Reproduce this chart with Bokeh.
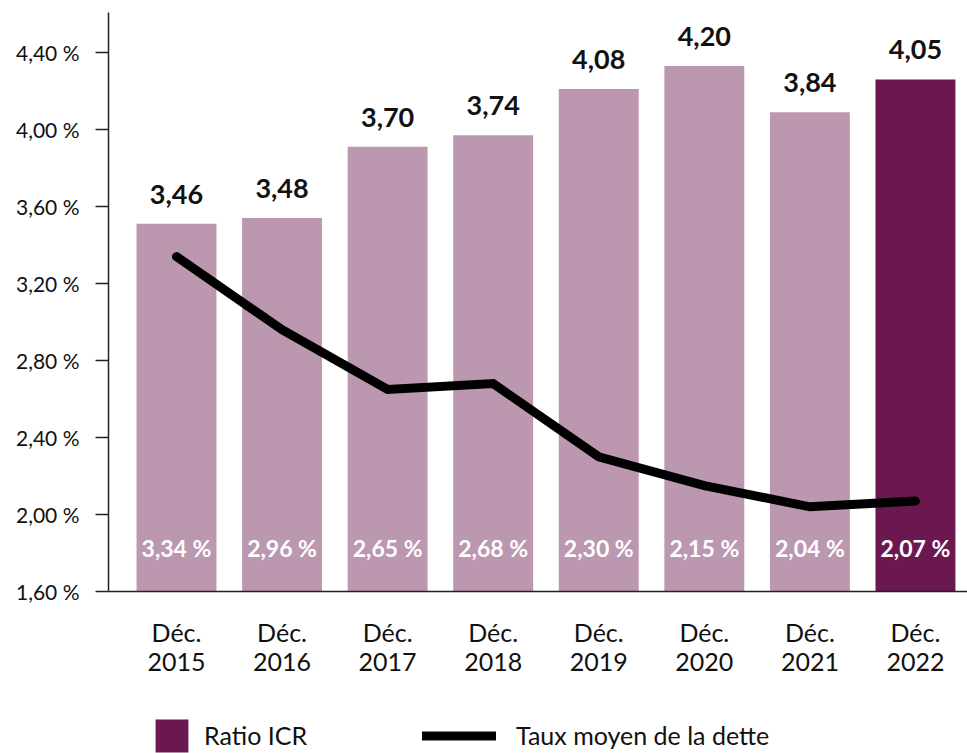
from bokeh.plotting import figure
from bokeh.layouts import column
from bokeh.models import (ColumnDataSource, Range1d, FixedTicker, CustomJSTickFormatter,
                          LabelSet, Legend, LegendItem)
from bokeh.core.properties import value
from bokeh.embed import file_html
from bokeh.resources import INLINE

# ---- data -------------------------------------------------------------
years = ["2015", "2016", "2017", "2018", "2019", "2020", "2021", "2022"]
icr_ratio = [3.46, 3.48, 3.70, 3.74, 4.08, 4.20, 3.84, 4.05]          # labels above bars
icr_bar_level = [3.51, 3.54, 3.91, 3.97, 4.21, 4.33, 4.09, 4.26]      # bar tops as drawn (read on % axis)
debt_rate = [3.34, 2.96, 2.65, 2.68, 2.30, 2.15, 2.04, 2.07]          # Taux moyen de la dette (%)
y_ticks = [1.6, 2.0, 2.4, 2.8, 3.2, 3.6, 4.0, 4.4]
legend_labels = ["Ratio ICR", "Taux moyen de la dette"]

# ---- styling ----------------------------------------------------------
FONT = "Lato"
LIGHT = "#BC97B0"
DARK = "#6B1851"
TXT = "#111111"
AX = "#222222"

xs = list(range(len(years)))
x_labels = {i: "Déc.\n" + y for i, y in enumerate(years)}
colors = [LIGHT] * (len(years) - 1) + [DARK]

src = ColumnDataSource(dict(
    x=xs,
    h=icr_bar_level,
    base=[y_ticks[0]] * len(years),
    rate=debt_rate,
    color=colors,
    icr_txt=[f"{v:.2f}".replace(".", ",") for v in icr_ratio],
    rate_txt=[f"{v:.2f} %".replace(".", ",") for v in debt_rate],
))

p = figure(width=967, height=700,
           x_range=Range1d(-0.644, 7.493), y_range=Range1d(1.60, 4.608),
           output_backend="svg", toolbar_location=None,
           min_border_left=108, min_border_right=0,
           min_border_top=12, min_border_bottom=109)
p.outline_line_color = None
p.xgrid.visible = False
p.ygrid.visible = False
p.background_fill_color = "white"
p.border_fill_color = "white"

bars = p.vbar(x="x", top="h", bottom="base", width=0.757, fill_color="color",
              line_color=None, source=src)
line = p.line(x="x", y="rate", line_width=9, line_color="black",
              line_cap="round", line_join="miter", source=src)

top_labels = LabelSet(x="x", y="h", text="icr_txt", source=src, y_offset=20,
                      text_align="center", text_baseline="alphabetic",
                      text_font=value(FONT), text_font_size="27px",
                      text_font_style="bold", text_color=TXT)
in_labels = LabelSet(x="x", y="base", text="rate_txt", source=src, y_offset=35,
                     text_align="center", text_baseline="alphabetic",
                     text_font=value(FONT), text_font_size="23px",
                     text_font_style="bold", text_color="white")
p.add_layout(top_labels)
p.add_layout(in_labels)

# y axis
ya = p.yaxis[0]
ya.ticker = FixedTicker(ticks=y_ticks)
ya.formatter = CustomJSTickFormatter(code="return tick.toFixed(2).replace('.', ',') + ' %';")
ya.major_tick_out = 13
ya.major_tick_in = 0
ya.minor_tick_out = 0
ya.minor_tick_in = 0
ya.major_label_standoff = 16
ya.major_label_text_font = FONT
ya.major_label_text_font_size = "21px"
ya.major_label_text_color = TXT
ya.axis_line_color = AX
ya.axis_line_width = 1.5
ya.major_tick_line_color = AX
ya.major_tick_line_width = 1.5

# x axis
xa = p.xaxis[0]
xa.ticker = FixedTicker(ticks=xs)
xa.major_label_overrides = x_labels
xa.major_tick_out = 0
xa.major_tick_in = 0
xa.minor_tick_out = 0
xa.minor_tick_in = 0
xa.major_label_standoff = 25
xa.major_label_text_font = FONT
xa.major_label_text_font_size = "25px"
xa.major_label_text_line_height = 0.97
xa.major_label_text_color = TXT
xa.axis_line_color = AX
xa.axis_line_width = 1.5

# ---- legend strip (separate figure below so it is not clipped) --------
# Its frame is aligned with the main frame (starts at the same left edge).
lg = figure(width=967, height=53, x_range=Range1d(0, 1), y_range=Range1d(0, 1),
            output_backend="svg", toolbar_location=None,
            x_axis_location=None, y_axis_location=None,
            min_border_left=0, min_border_right=0,
            min_border_top=0, min_border_bottom=0)
lg.outline_line_color = None
lg.xgrid.visible = False
lg.ygrid.visible = False
lg.border_fill_color = "white"
# legend proxies: one point each, outside the strip's visible range
proxy = ColumnDataSource(dict(x=[-9], y=[-9]))
leg_bar = lg.vbar(x="x", top="y", width=0.5, fill_color=DARK, line_color=None, source=proxy)
leg_line = lg.line(x="x", y="y", line_width=9, line_color="black", line_cap="round", source=proxy)

common = dict(padding=0, margin=0, spacing=0, label_text_font=FONT,
              label_text_font_size="25px", label_text_color=TXT,
              border_line_color=None, background_fill_alpha=0)
leg1 = Legend(items=[LegendItem(label=legend_labels[0], renderers=[leg_bar])],
              location=(43, -2.5), glyph_width=41, glyph_height=41,
              label_standoff=12, **common)
leg2 = Legend(items=[LegendItem(label=legend_labels[1], renderers=[leg_line])],
              location=(314, -2.5), glyph_width=74, glyph_height=41,
              label_standoff=20, **common)
lg.add_layout(leg1)
lg.add_layout(leg2)

layout = column(p, lg, spacing=0)
open("out.html", "w").write(file_html(layout, INLINE))
